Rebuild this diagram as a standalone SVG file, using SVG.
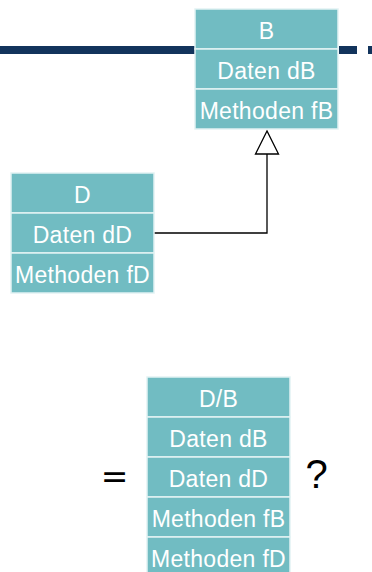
<svg xmlns="http://www.w3.org/2000/svg" width="372" height="572" viewBox="0 0 372 572">
  <style>
    .cell { fill: #71bcc2; stroke: #e2f2f3; stroke-width: 1.5; }
    .lbl { font-family: "Liberation Sans", Arial, sans-serif; font-size: 23px; fill: #ffffff; text-anchor: middle; letter-spacing: 0.3px; }
    .eq { font-family: "DejaVu Sans", sans-serif; font-size: 33px; fill: #000000; text-anchor: middle; }
    .q { font-family: "Liberation Sans", Arial, sans-serif; font-size: 40px; fill: #000000; text-anchor: middle; }
    .bar { fill: #12345c; }
    .conn { fill: none; stroke: #000000; stroke-width: 1.3; }
  </style>

  <!-- title bar -->
  <rect class="bar" x="0" y="46" width="196" height="8"/>
  <rect class="bar" x="339" y="46" width="18" height="8"/>
  <rect class="bar" x="368" y="46" width="4" height="8"/>

  <!-- connectors -->
  <g id="connectors">
    <polyline class="conn" points="154,233 267,233 267,154"/>
    <polygon points="267,131 255.5,154 278.5,154" fill="#ffffff" stroke="#000000" stroke-width="1.3"/>
  </g>

  <!-- class B -->
  <g id="node-B">
    <rect class="cell" x="195" y="9" width="143" height="40"/>
    <rect class="cell" x="195" y="49" width="143" height="40"/>
    <rect class="cell" x="195" y="89" width="143" height="40"/>
    <text class="lbl" x="266.5" y="38.5">B</text>
    <text class="lbl" x="266.5" y="78.5">Daten dB</text>
    <text class="lbl" x="266.5" y="118.5">Methoden fB</text>
  </g>

  <!-- class D -->
  <g id="node-D">
    <rect class="cell" x="11" y="173" width="143" height="40"/>
    <rect class="cell" x="11" y="213" width="143" height="40"/>
    <rect class="cell" x="11" y="253" width="143" height="40"/>
    <text class="lbl" x="82.5" y="202.5">D</text>
    <text class="lbl" x="82.5" y="242.5">Daten dD</text>
    <text class="lbl" x="82.5" y="282.5">Methoden fD</text>
  </g>

  <!-- combined D/B -->
  <g id="node-DB">
    <rect class="cell" x="147" y="377" width="143" height="40"/>
    <rect class="cell" x="147" y="417" width="143" height="40"/>
    <rect class="cell" x="147" y="457" width="143" height="40"/>
    <rect class="cell" x="147" y="497" width="143" height="40"/>
    <rect class="cell" x="147" y="537" width="143" height="40"/>
    <text class="lbl" x="218.5" y="406.5">D/B</text>
    <text class="lbl" x="218.5" y="446.5">Daten dB</text>
    <text class="lbl" x="218.5" y="486.5">Daten dD</text>
    <text class="lbl" x="218.5" y="526.5">Methoden fB</text>
    <text class="lbl" x="218.5" y="566.5">Methoden fD</text>
  </g>

  <text class="eq" x="114.5" y="488">=</text>
  <text class="q" x="316.5" y="488">?</text>
</svg>
